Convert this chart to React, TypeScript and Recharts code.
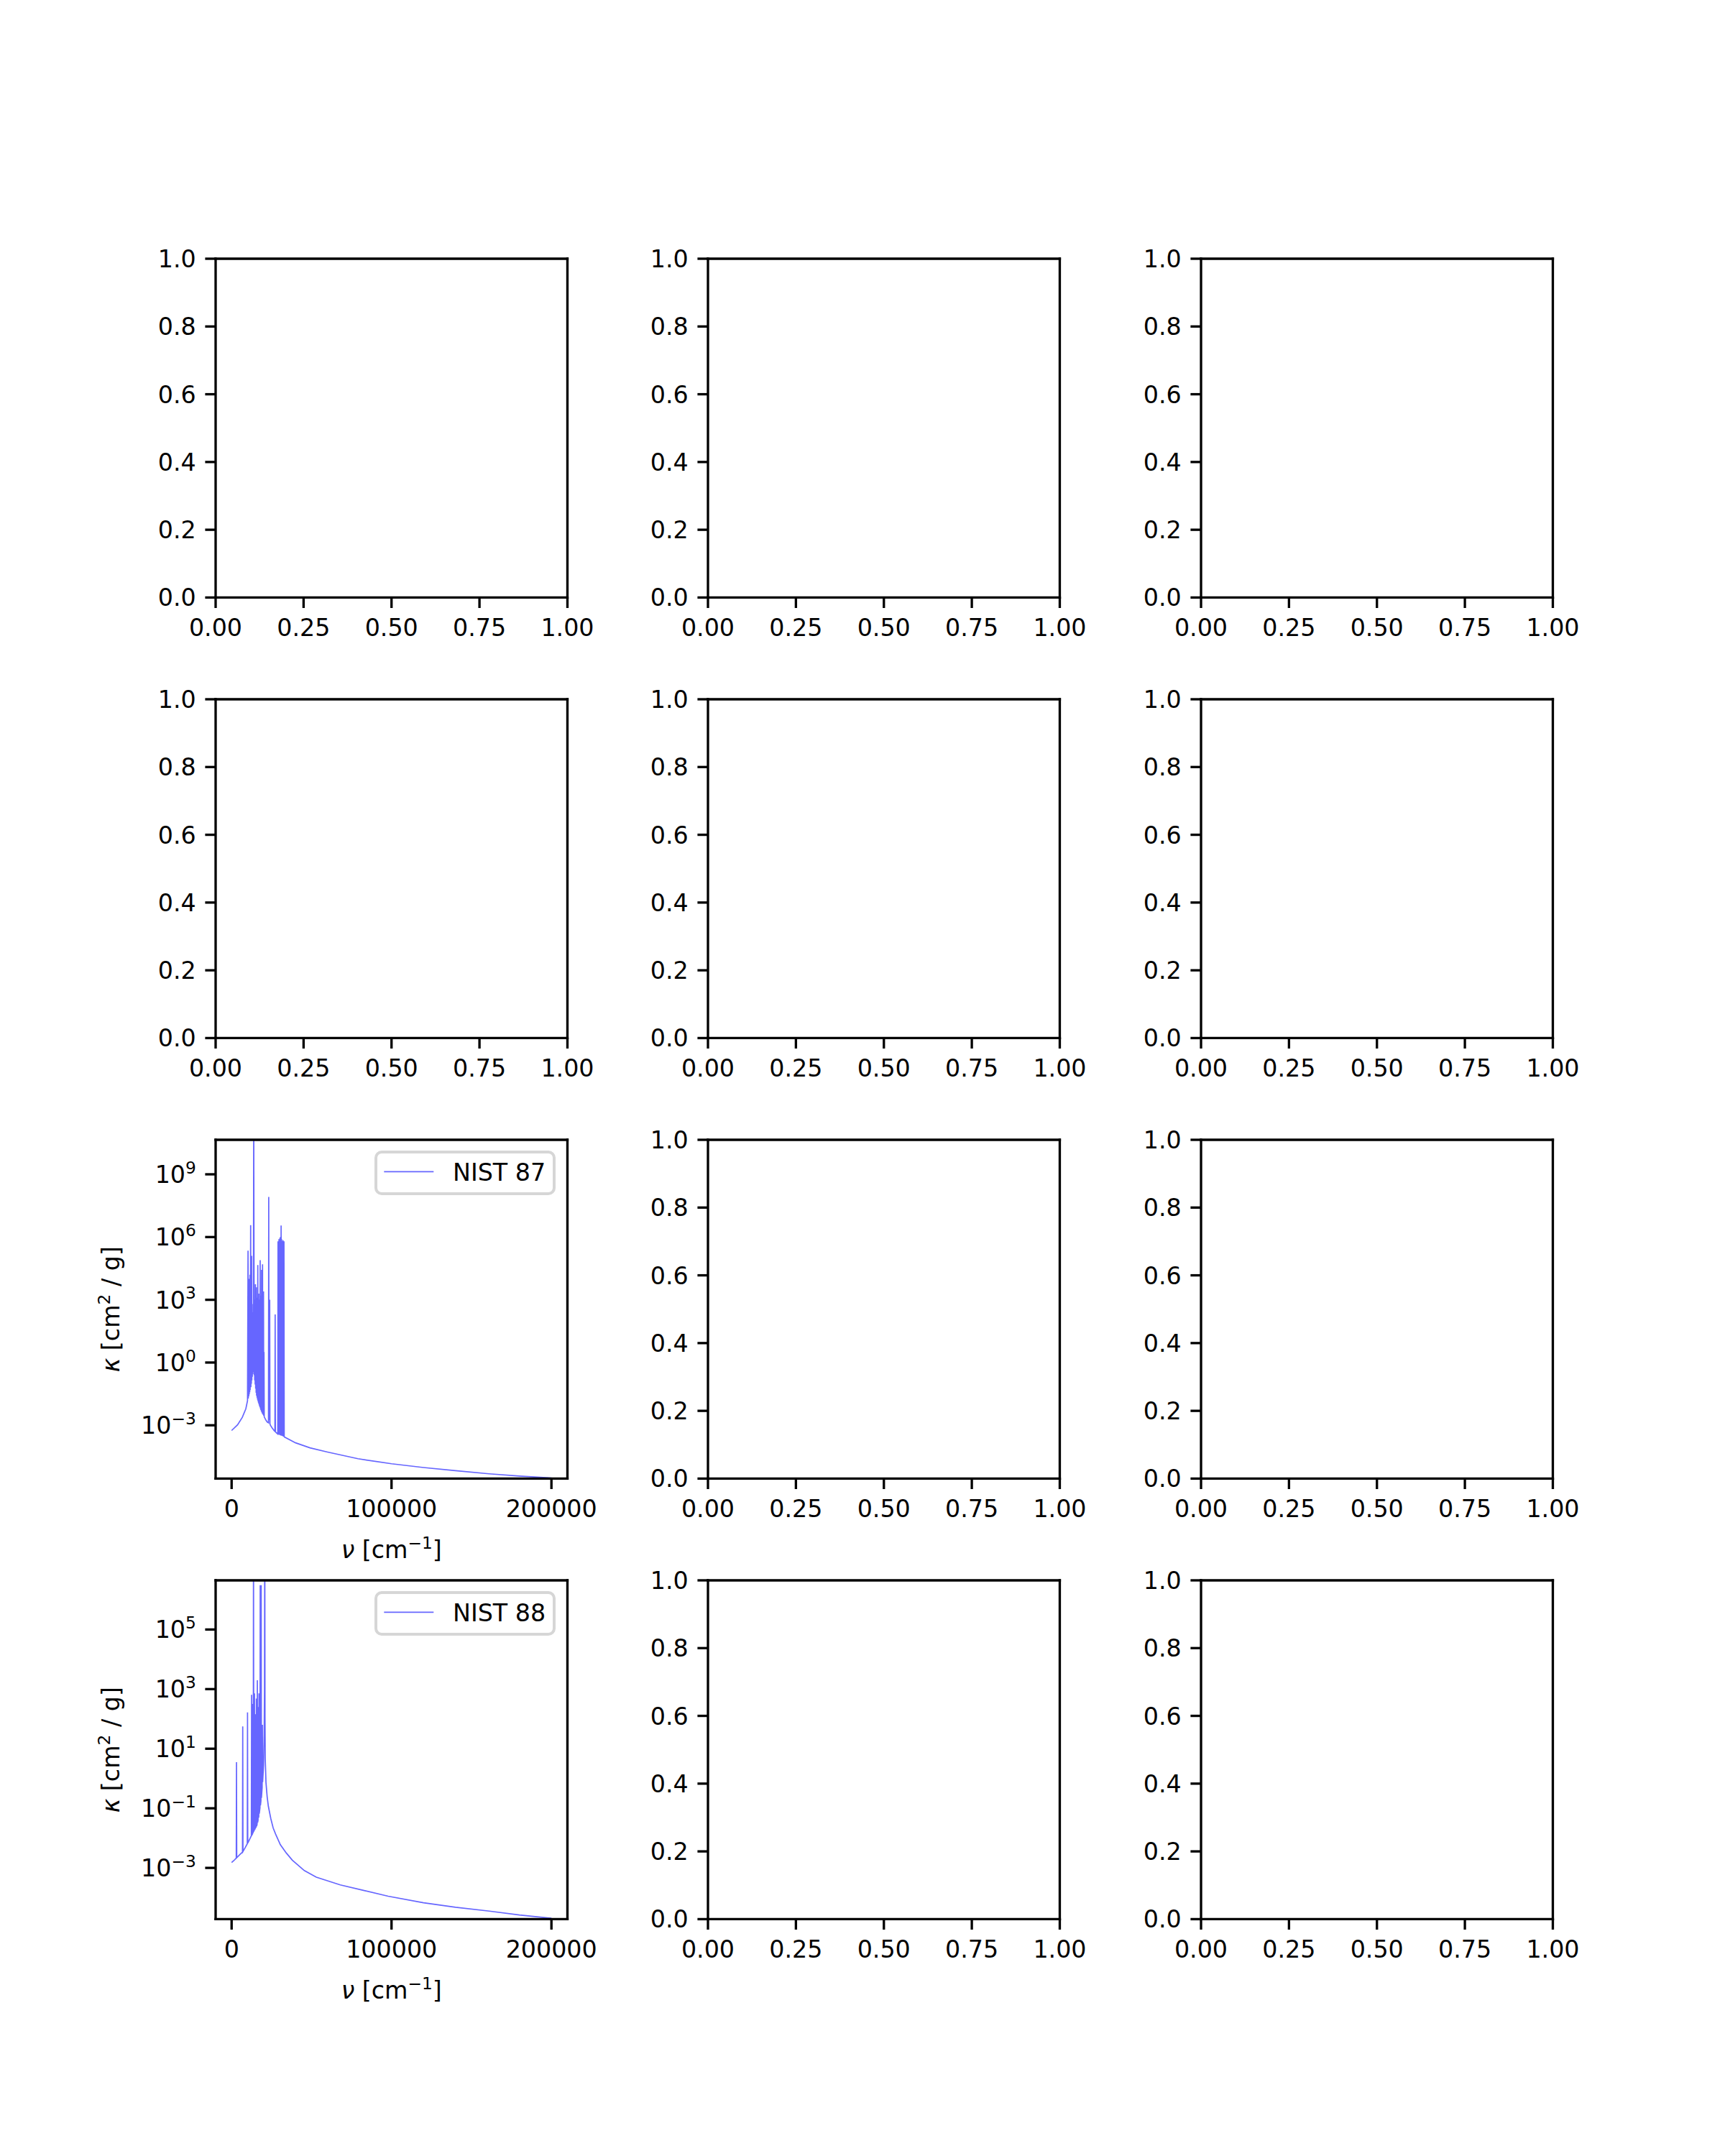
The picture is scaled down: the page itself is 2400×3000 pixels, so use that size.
import React from 'react';
import { LineChart, Line, XAxis, YAxis, Legend } from 'recharts';

// ---------------- data ----------------
// NIST 87: wavenumber [cm^-1] and log10 of opacity kappa [cm^2/g]
const nu87 = [
  0, 3700, 6700, 8900, 9950,
  10270, 10420, 10560, 10710, 10860, 11010, 11160, 11310, 11460, 11600,
  11900, 12050, 12200, 12350, 12500, 12650, 12800, 12950, 13100, 13250,
  13400, 13550, 13840, 14130, 14290, 14430, 14580, 14730, 14880, 15030,
  15180, 15330, 15480, 15620, 15770, 15920, 16070, 16220, 16370, 16520,
  16660, 16810, 16960, 17110, 17260, 17410, 17560, 17710, 17860, 18010,
  18150, 18300, 18450, 18600, 18750, 18900, 19050, 19200, 19340, 19490,
  19640, 19790, 19940, 20090, 20240, 20400,
  20830, 21580, 22320, 23050, 23210, 23380, 23650, 23810, 23960, 24250,
  25300, 26040, 26780, 27080, 27230, 27380, 27830, 28720, 28870, 29020,
  29170, 29320, 29460, 29610, 29760, 29910, 30060, 30210, 30350, 30500,
  30650, 30800, 30880, 30950, 31100, 31250, 31400, 31550, 31690, 31840,
  31990, 32140, 32290, 32440, 32590, 32740, 32890, 33030,
  40000, 49000, 60000, 79000, 100000, 120000, 140000, 161000, 180000, 200000,
];
const logKappa87 = [
  -3.25, -2.98, -2.62, -2.21, -1.82,
  5.35, -1.72, 2.9, -1.62, 4.0, -1.52, 3.2, -1.42, 4.2, -1.32,
  6.57, -1.18, 3.6, -1.02, 5.1, -0.85, 2.4, -0.68, 1.5, -0.55,
  2.8, -0.46, 12, -0.60, 2.0, -0.85, 3.0, -1.05, 3.74, -1.25,
  2.6, -1.45, 3.6, -1.58, 2.2, -1.68, 3.1, -1.77, 4.66, -1.85,
  2.5, -1.93, 3.3, -2.0, 2.1, -2.07, 3.0, -2.13, 4.89, -2.2,
  2.4, -2.27, 3.2, -2.33, 4.43, -2.38, 2.0, -2.43, 4.7, -2.47,
  1.8, -2.5, 3.4, -2.55, 0.5, -2.6,
  -2.66, -2.77, -2.85, -2.88, 7.92, -2.5, -2.75, 3.0, -2.92, -3.0,
  -3.12, -3.2, -3.27, -3.29, 2.30, -3.31, -3.35, -3.41, -3.42, 5.8,
  -3.43, 4.5, -3.44, 5.9, -3.45, 5.3, -3.46, 5.95, -3.47, 6.0,
  -3.48, 5.5, -3.49, 6.55, -3.49, 5.9, -3.50, 5.8, -3.51, 5.2,
  -3.52, 5.85, -3.53, 4.9, -3.54, 5.8, -3.55, -3.56,
  -3.84, -4.08, -4.28, -4.60, -4.84, -5.02, -5.17, -5.32, -5.43, -5.52,
];

// NIST 88
const nu88 = [
  0, 1500, 2900, 3056, 3200, 5000, 6800, 6950, 7100, 8500,
  9800, 9950, 10100, 11200, 12340, 12490, 12640, 13090, 13240, 13390,
  13540, 13690, 13840, 14140, 14290, 14440, 14740, 14890, 15040, 15340,
  15490, 15640, 15940, 16090, 16240, 16540, 16690, 16840, 16990, 17140,
  17290, 17740, 17890, 18040, 18340, 18490, 18640, 19090, 19240, 19390,
  19990, 20350, 20550, 20730, 20880, 21030, 21480, 22220, 22970, 24480,
  25980, 27470, 30470, 34200, 37960, 45450, 52940, 67920, 82900, 97870,
  120000, 140000, 161200, 180000, 200000,
];
const logKappa88 = [
  -2.82, -2.75, -2.67, 0.55, -2.66, -2.56, -2.47, 1.75, -2.45, -2.32,
  -2.19, 2.22, -2.17, -2.05, -1.92, 2.81, -1.90, -1.86, 2.5, -1.83,
  -1.80, 9, -1.78, -1.74, 2.86, -1.72, -1.68, 2.16, -1.66, -1.62,
  2.68, -1.60, -1.53, 3.30, -1.48, -1.40, 2.4, -1.32, -1.26, 2.86,
  -1.18, -0.98, 6.49, -0.90, -0.75, 6.49, -0.65, -0.30, 1.8, -0.12,
  0.45, 1.5, 3.0, 9, 2.0, 0.67, -0.13, -0.61, -0.93, -1.34,
  -1.66, -1.86, -2.22, -2.50, -2.74, -3.09, -3.31, -3.57, -3.76, -3.95,
  -4.17, -4.32, -4.45, -4.58, -4.69,
];

// ticks and labels
const unitXTicks = [0, 0.25, 0.5, 0.75, 1];
const unitXLabels = ['0.00', '0.25', '0.50', '0.75', '1.00'];
const unitYTicks = [0, 0.2, 0.4, 0.6, 0.8, 1];
const unitYLabels = ['0.0', '0.2', '0.4', '0.6', '0.8', '1.0'];
const nuTicks = [0, 100000, 200000];
const nuLabels = ['0', '100000', '200000'];
const nuRange = [-10000, 210000];
const kappaExp87 = [-3, 0, 3, 6, 9];
const kappaExp88 = [-3, -1, 1, 3, 5];
const logRange87 = [-5.55, 10.65];
const logRange88 = [-4.72, 6.65];
const legendNames = ['NIST 87', 'NIST 88'];

// ---------------- layout ----------------
const FONT = "'DejaVu Sans', sans-serif";
const FS = 33.3;
const SUP = 23.3;
const SPINE = 3.33;
const TICK = 14.6;
const LINE_COLOR = '#6666ff';

const AX_W = 489.47;
const AX_H = 471.43;
const COL_LEFT = [300, 985.3, 1670.6];
const ROW_TOP = [360, 972.9, 1585.7, 2198.6];

const PAD_L = 220;
const PAD_R = 70;
const PAD_T = 30;
const PAD_B = 150;
const CW = AX_W + PAD_L + PAD_R;
const CH = AX_H + PAD_T + PAD_B;
const MARGIN = { top: PAD_T - 1, right: PAD_R - 1, bottom: 0, left: 0 };

const spine = { stroke: '#000', strokeWidth: SPINE, strokeLinecap: 'square' as const };
const tickLineStyle = { stroke: '#000', strokeWidth: SPINE };

const textProps = { fontFamily: FONT, fontSize: FS, fill: '#000' };

const makeXTick = (vals: number[], labels: string[]) => (p: any) => {
  const i = vals.findIndex((v) => Math.abs(v - p.payload.value) < 1e-9);
  return (
    <text x={p.x} y={p.y + 39.4} textAnchor="middle" {...textProps}>
      {i >= 0 ? labels[i] : ''}
    </text>
  );
};

const makeYTick = (vals: number[], labels: string[]) => (p: any) => {
  const i = vals.findIndex((v) => Math.abs(v - p.payload.value) < 1e-9);
  return (
    <text x={p.x + 2} y={p.y + 12} textAnchor="end" {...textProps}>
      {i >= 0 ? labels[i] : ''}
    </text>
  );
};

const expText = (n: number) => (n < 0 ? '\u2212' + Math.abs(n) : String(n));

const LogYTick = (p: any) => {
  const n = Math.round(Math.log10(p.payload.value));
  return (
    <text x={p.x + 2} y={p.y + 12} textAnchor="end" {...textProps}>
      <tspan>10</tspan>
      <tspan dy={-13.3} fontSize={SUP}>{expText(n)}</tspan>
    </text>
  );
};

const KappaLabel = (props: any) => {
  const vb = props.viewBox || { x: 0, y: PAD_T, width: PAD_L, height: AX_H };
  const cx = vb.x + vb.width - 134;
  const cy = vb.y + vb.height / 2;
  return (
    <text x={cx} y={cy} transform={`rotate(-90 ${cx} ${cy})`} textAnchor="middle" {...textProps} style={{ whiteSpace: 'pre' }}>
      <tspan fontStyle="italic">κ</tspan>
      <tspan> [cm</tspan>
      <tspan dy={-13.3} fontSize={SUP}>2</tspan>
      <tspan dy={13.3}> / g]</tspan>
    </text>
  );
};

const NuLabel = (props: any) => {
  const vb = props.viewBox || { x: PAD_L, y: PAD_T + AX_H, width: AX_W, height: PAD_B };
  const cx = vb.x + vb.width / 2;
  const cy = vb.y + 111;
  return (
    <text x={cx} y={cy} textAnchor="middle" {...textProps} style={{ whiteSpace: 'pre' }}>
      <tspan fontStyle="italic">ν</tspan>
      <tspan> [cm</tspan>
      <tspan dy={-13.3} fontSize={SUP}>{'\u22121'}</tspan>
      <tspan dy={13.3}>]</tspan>
    </text>
  );
};

const makeLegend = (name: string) => () => (
  <svg width={252} height={62} style={{ display: 'block' }}>
    <rect x={2} y={2} width={248} height={58} rx={8} ry={8} fill="#fff" fillOpacity={0.8} stroke="#d6d6d6" strokeWidth={4} />
    <line x1={13.3} x2={82.3} y1={29.3} y2={29.3} stroke={LINE_COLOR} strokeWidth={1.7} />
    <text x={109} y={42} {...textProps}>{name}</text>
  </svg>
);

const frameAxes = [
  <XAxis key="top" xAxisId="top" orientation="top" type="number" domain={[0, 1]} allowDataOverflow height={1} tick={false} tickLine={false} axisLine={spine} />,
  <YAxis key="right" yAxisId="right" orientation="right" type="number" domain={[0, 1]} allowDataOverflow width={1} tick={false} tickLine={false} axisLine={spine} />,
];

function EmptyPanel({ col, row }: { col: number; row: number }) {
  return (
    <div style={{ position: 'absolute', left: COL_LEFT[col] - PAD_L, top: ROW_TOP[row] - PAD_T }}>
      <LineChart width={CW} height={CH} data={[]} margin={MARGIN}>
        <XAxis
          type="number"
          dataKey="x"
          domain={[0, 1]}
          allowDataOverflow
          ticks={unitXTicks}
          interval={0}
          height={PAD_B}
          tickSize={TICK}
          tickMargin={0}
          axisLine={spine}
          tickLine={tickLineStyle}
          tick={makeXTick(unitXTicks, unitXLabels)}
        />
        <YAxis
          type="number"
          domain={[0, 1]}
          allowDataOverflow
          ticks={unitYTicks}
          interval={0}
          width={PAD_L}
          tickSize={TICK}
          tickMargin={TICK}
          axisLine={spine}
          tickLine={tickLineStyle}
          tick={makeYTick(unitYTicks, unitYLabels)}
        />
        {frameAxes}
      </LineChart>
    </div>
  );
}

function SpectrumPanel({
  row,
  nu,
  logKappa,
  exps,
  logRange,
  name,
}: {
  row: number;
  nu: number[];
  logKappa: number[];
  exps: number[];
  logRange: number[];
  name: string;
}) {
  const table = nu.map((v, i) => ({ nu: v, kappa: Math.pow(10, logKappa[i]) }));
  const ticks = exps.map((e) => Math.pow(10, e));
  const domain = [Math.pow(10, logRange[0]), Math.pow(10, logRange[1])];
  return (
    <div style={{ position: 'absolute', left: COL_LEFT[0] - PAD_L, top: ROW_TOP[row] - PAD_T }}>
      <LineChart width={CW} height={CH} data={table} margin={MARGIN}>
        <XAxis
          type="number"
          dataKey="nu"
          domain={nuRange}
          allowDataOverflow
          ticks={nuTicks}
          interval={0}
          height={PAD_B}
          tickSize={TICK}
          tickMargin={0}
          axisLine={spine}
          tickLine={tickLineStyle}
          tick={makeXTick(nuTicks, nuLabels)}
          label={<NuLabel />}
        />
        <YAxis
          type="number"
          scale="log"
          domain={domain}
          allowDataOverflow
          ticks={ticks}
          interval={0}
          width={PAD_L}
          tickSize={TICK}
          tickMargin={TICK}
          axisLine={spine}
          tickLine={tickLineStyle}
          tick={LogYTick}
          label={<KappaLabel />}
        />
        {frameAxes}
        <Line
          dataKey="kappa"
          type="linear"
          dot={false}
          activeDot={false}
          stroke={LINE_COLOR}
          strokeWidth={1.7}
          isAnimationActive={false}
          name={name}
        />
        <Legend
          layout="horizontal"
          verticalAlign="middle"
          align="center"
          content={makeLegend(name)}
          wrapperStyle={{ left: PAD_L + AX_W - 16.7 - 252, top: PAD_T + 15, width: 252, height: 62 }}
        />
      </LineChart>
    </div>
  );
}

export default function App() {
  const empties: { col: number; row: number }[] = [];
  for (let r = 0; r < 4; r++) {
    for (let c = 0; c < 3; c++) {
      if (c === 0 && r >= 2) continue;
      empties.push({ col: c, row: r });
    }
  }
  return (
    <div style={{ position: 'absolute', left: 0, top: 0, width: 2400, height: 3000, background: '#fff', overflow: 'hidden' }}>
      {empties.map((e) => (
        <EmptyPanel key={`${e.row}-${e.col}`} col={e.col} row={e.row} />
      ))}
      <SpectrumPanel row={2} nu={nu87} logKappa={logKappa87} exps={kappaExp87} logRange={logRange87} name={legendNames[0]} />
      <SpectrumPanel row={3} nu={nu88} logKappa={logKappa88} exps={kappaExp88} logRange={logRange88} name={legendNames[1]} />
    </div>
  );
}
